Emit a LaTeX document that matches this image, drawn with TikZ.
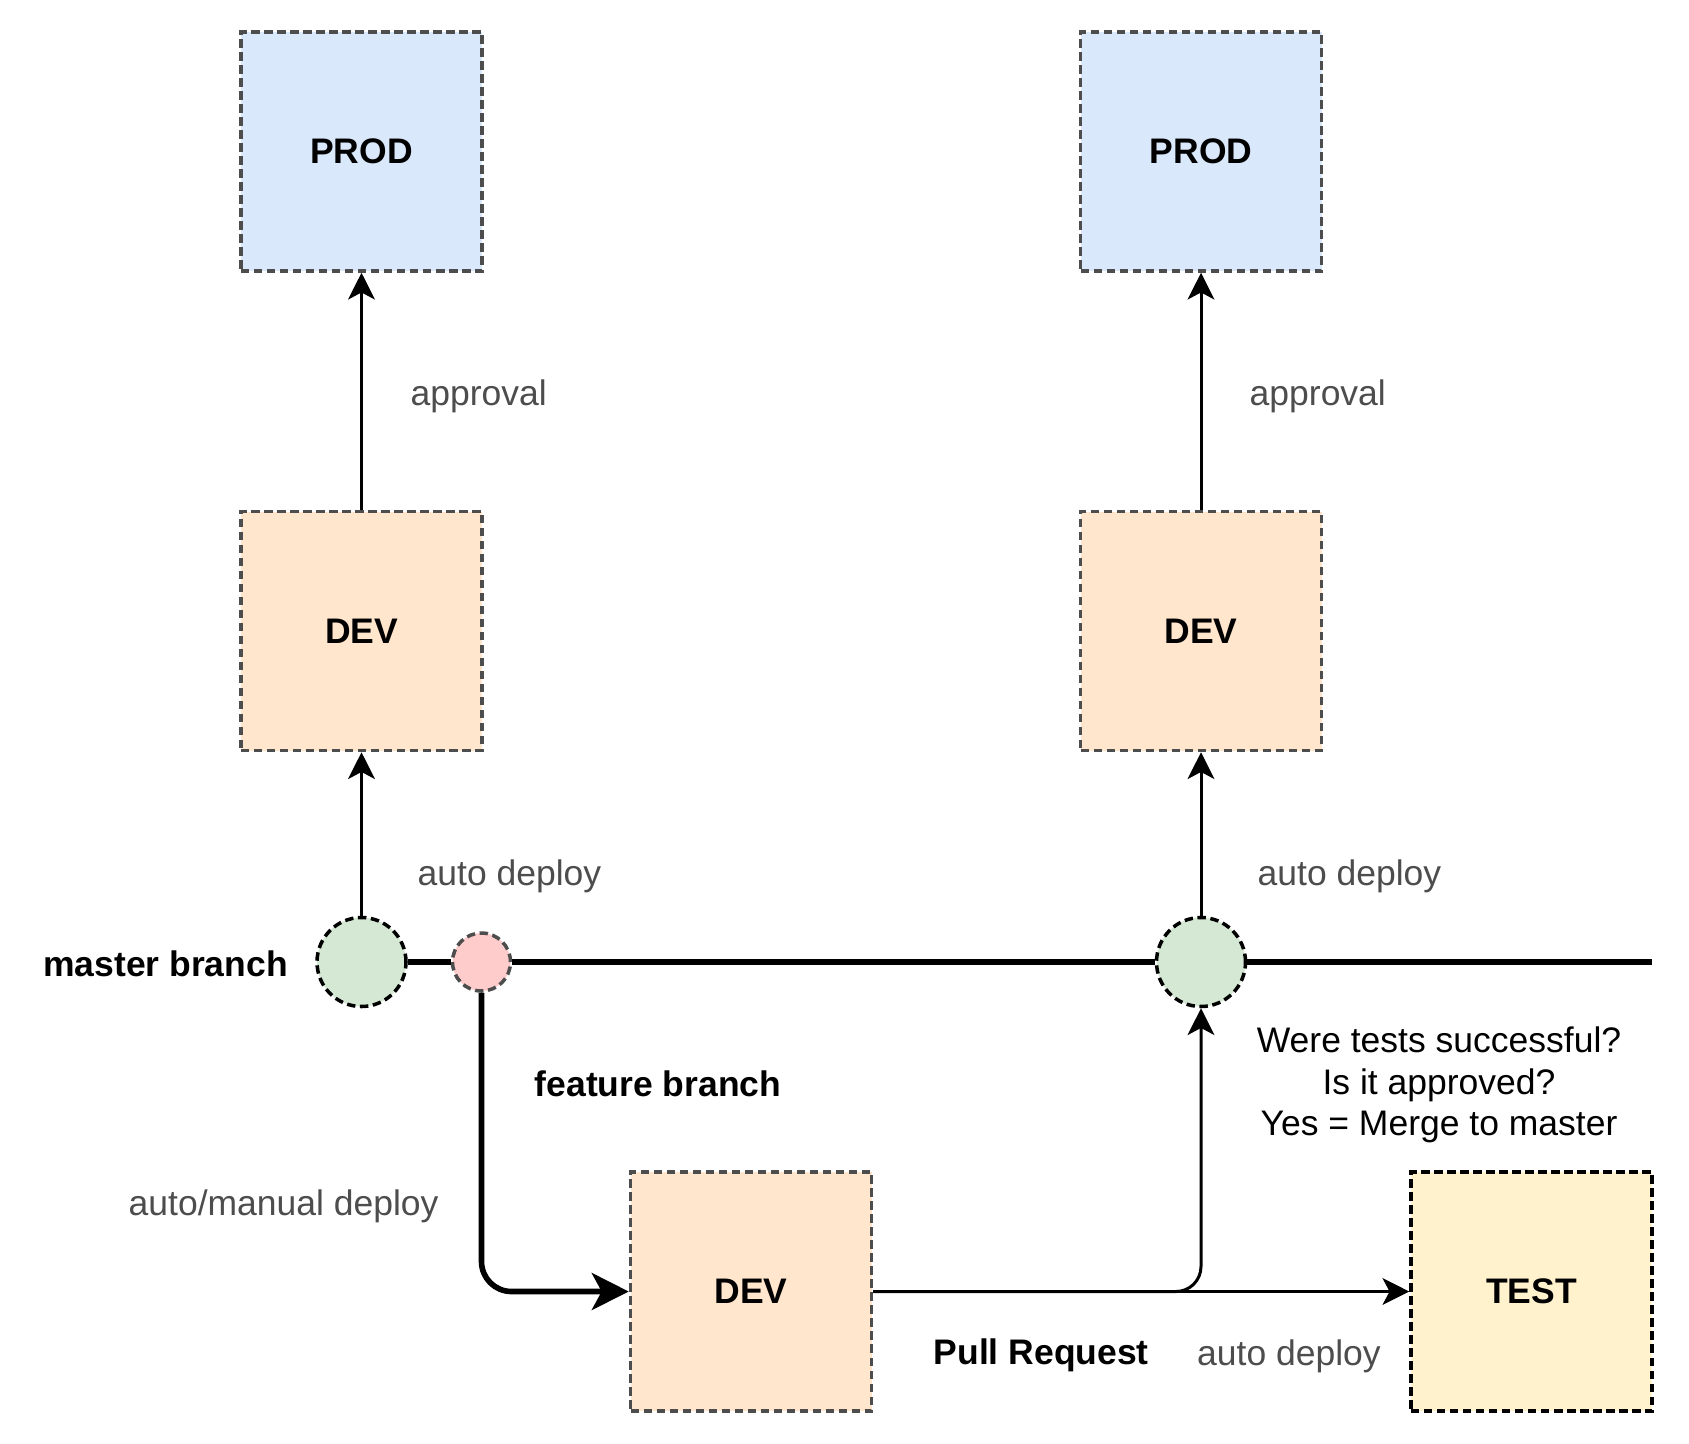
\documentclass[tikz,border=0pt]{standalone}
\usepackage{fontspec}
\setmainfont{Liberation Sans}
\definecolor{prodblue}{RGB}{218, 232, 252}
\definecolor{devorange}{RGB}{255, 230, 204}
\definecolor{testyellow}{RGB}{255, 242, 204}
\definecolor{okgreen}{RGB}{213, 232, 212}
\definecolor{branchpink}{RGB}{255, 204, 204}
\definecolor{edgegray}{RGB}{77, 77, 77}
\definecolor{labelgray}{RGB}{77, 77, 77}
\usetikzlibrary{arrows.meta, positioning}

\tikzset{
  envbox/.style={draw=edgegray, line width=1pt, dash pattern=on 2.4pt off 1.3pt,
    minimum width=2.41cm, minimum height=2.39cm, inner sep=0pt,
    font=\fontsize{10.1pt}{11.8pt}\selectfont\bfseries},
  commit/.style={circle, draw=black, line width=1pt, dash pattern=on 2.4pt off 1.3pt,
    minimum size=0.89cm, inner sep=0pt},
  lbl/.style={inner sep=0pt, anchor=west, text=labelgray, font=\fontsize{10.1pt}{11.8pt}\selectfont},
  blbl/.style={inner sep=0pt, anchor=west, font=\fontsize{10.1pt}{11.8pt}\selectfont\bfseries},
  arr/.style={line width=0.85pt, -{Stealth[length=7.6pt, width=7.6pt, inset=2pt]}},
  trunk/.style={line width=1.6pt}
}

\begin{document}
\begin{tikzpicture}
  \useasboundingbox (0,0) rectangle (16.89,-14.43);

  % Environments
  \node[envbox, fill=prodblue] (prodL) at (3.615, -1.515) {PROD};
  \node[envbox, fill=prodblue] (prodR) at (12.01, -1.515) {PROD};
  \node[envbox, fill=devorange] (devL) at (3.615, -6.31) {DEV};
  \node[envbox, fill=devorange] (devR) at (12.01, -6.31) {DEV};
  \node[envbox, fill=devorange] (devF) at (7.51, -12.915) {DEV};
  \node[envbox, fill=testyellow, draw=black] (test) at (15.315, -12.915) {TEST};

  % Commits
  \node[commit, fill=okgreen] (mergeL) at (3.615, -9.62) {};
  \node[commit, fill=branchpink, draw=edgegray, minimum size=0.58cm] (fork) at (4.815, -9.62) {};
  \node[commit, fill=okgreen] (mergeR) at (12.01, -9.62) {};
  \coordinate (masterEnd) at (16.52, -9.62);

  % Branches
  \draw[trunk] (mergeL) -- (fork);
  \draw[trunk] (fork) -- (mergeR);
  \draw[trunk] (mergeR) -- (masterEnd);
  \draw[trunk, rounded corners=0.3cm, -{Stealth[length=10.5pt, width=10.5pt, inset=2.8pt]}] (fork) |- (devF);

  % Deploys
  \draw[arr] (mergeL) -- (devL);
  \draw[arr] (devL) -- (prodL);
  \draw[arr] (mergeR) -- (devR);
  \draw[arr] (devR) -- (prodR);
  \draw[arr] (devF) -- (test);
  \draw[arr, rounded corners=0.25cm] (devF.east) -| (mergeR);

  % Labels
  \node[lbl] (apprL) at (4.10, -3.96) {approval};
  \node[lbl] (apprR) at (12.49, -3.96) {approval};
  \node[lbl] (autoL) at (4.17, -8.765) {auto deploy};
  \node[lbl] (autoR) at (12.57, -8.765) {auto deploy};
  \node[blbl, anchor=east] (master) at (2.886, -9.635) {master branch};
  \node[blbl] (feature) at (5.34, -10.835) {feature branch};
  \node[lbl] (manual) at (1.28, -12.06) {auto/manual deploy};
  \node[blbl] (pr) at (9.33, -13.55) {Pull Request};
  \node[lbl] (autoT) at (11.965, -13.56) {auto deploy};
  \node[inner sep=0pt, align=center, font=\fontsize{10.1pt}{11.8pt}\selectfont] (check) at (14.39, -10.85)
    {Were tests successful?\\Is it approved?\\Yes = Merge to master};
\end{tikzpicture}
\end{document}
